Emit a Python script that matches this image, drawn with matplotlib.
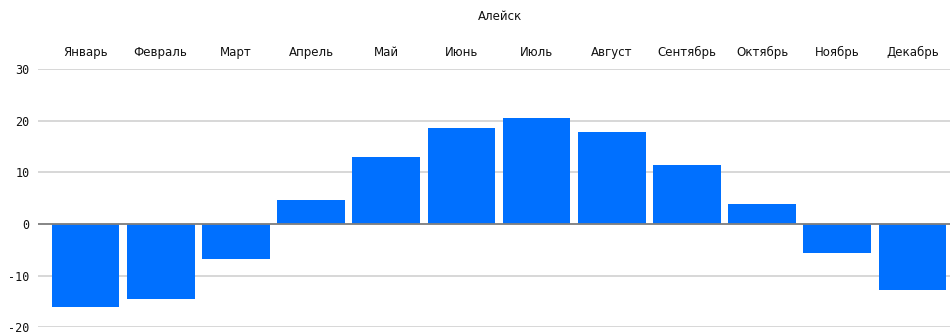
import matplotlib
matplotlib.use("Agg")
import matplotlib.pyplot as plt

months = ["Январь", "Февраль", "Март", "Апрель", "Май", "Июнь",
          "Июль", "Август", "Сентябрь", "Октябрь", "Ноябрь", "Декабрь"]
temps = [-16.0, -14.5, -6.7, 4.6, 12.9, 18.5, 20.5, 17.7, 11.4, 3.9, -5.6, -12.7]
yticks = [-20, -10, 0, 10, 20, 30]
title = "Алейск"

plt.rcParams['font.family'] = ['DejaVu Sans']
fig = plt.figure(figsize=(9.5, 3.36), dpi=100)
ax = fig.add_axes([38/950, 0.026, 1 - 38/950, 0.795 - 0.026])

x = list(range(len(months)))
ax.bar(x, temps, width=0.9, color="#0070ff", zorder=3)
ax.set_xlim(-0.632, 11.5)
ax.set_ylim(-20, 30)
ax.set_yticks(yticks)
ax.set_yticklabels([str(t) for t in yticks], fontsize=8.5, family='DejaVu Sans Mono', color="#111111")
ax.tick_params(axis='y', length=0, pad=6)
ax.grid(axis='y', color="#d4d4d4", linewidth=1.3, zorder=0)
ax.axhline(0, color="#808080", linewidth=1.3, zorder=4)

ax.xaxis.tick_top()
ax.set_xticks(x)
ax.set_xticklabels(months, fontsize=8.5, color="#111111")
ax.tick_params(axis='x', length=0, pad=7)

for s in ax.spines.values():
    s.set_visible(False)

fig.text(500/950, 1 - 17/336, title, ha='center', va='center', fontsize=8.5, color="#111111")

fig.savefig("out.png", dpi=100)
